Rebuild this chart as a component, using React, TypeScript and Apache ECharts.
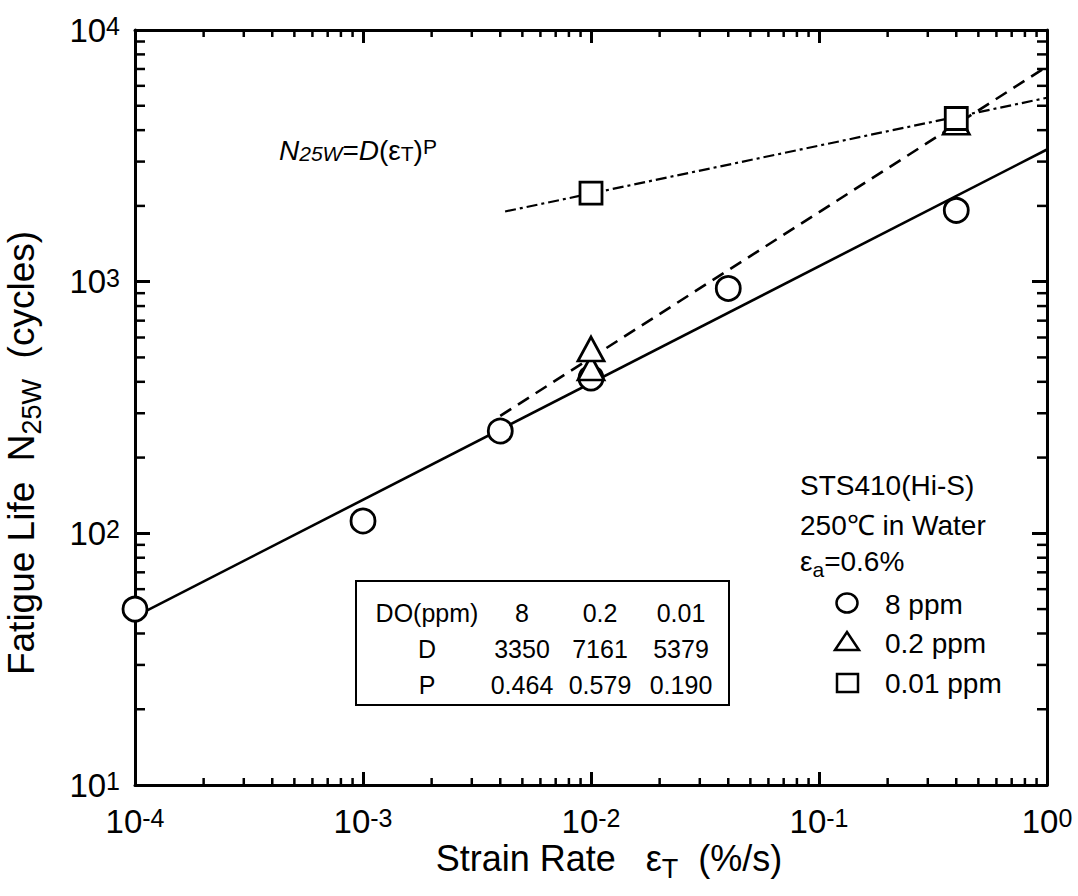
import React, { useEffect, useRef } from 'react';
import * as echarts from 'echarts';

// ---------------- data ----------------
const xDecades = [-4, -3, -2, -1];
const yDecades = [1, 2, 3];
const minorMultipliers = [2, 3, 4, 5, 6, 7, 8, 9];

// measured fatigue lives (strain rate %/s, cycles)
const circles8ppm: [number, number][] = [
  [0.0001, 50], [0.001, 112], [0.004, 255], [0.01, 414], [0.04, 940], [0.4, 1920],
];
const triangles02ppm: [number, number][] = [
  [0.01, 454], [0.01, 540], [0.4, 4300],
];
const squares001ppm: [number, number][] = [
  [0.01, 2250], [0.4, 4450],
];

// fitted lines N = D * eps^P (end points)
const fit8ppm: [number, number][] = [[0.0001, 46.7], [1, 3350]];
const fit02ppm: [number, number][] = [[0.004, 293], [1, 7161]];
const fit001ppm: [number, number][] = [[0.0042, 1900], [1, 5379]];

// table
const tableHeader = ['DO(ppm)', '8', '0.2', '0.01'];
const tableD = ['D', '3350', '7161', '5379'];
const tableP = ['P', '0.464', '0.579', '0.190'];

// legend texts
const infoLines = ['STS410(Hi-S)', '250℃ in Water'];
const legendLabels = ['8 ppm', '0.2 ppm', '0.01 ppm'];

const FONT = '"Liberation Sans", Arial, Helvetica, sans-serif';
const black = '#000';

export default function App() {
  const ref = useRef<HTMLDivElement>(null);

  useEffect(() => {
    const chart = echarts.init(ref.current!, null, { renderer: 'svg' });

    const xMinorTicks = xDecades.flatMap((d) => minorMultipliers.map((m) => [m * Math.pow(10, d), 10]));
    const yMinorTicks = yDecades.flatMap((d) => minorMultipliers.map((m) => [0.0001, m * Math.pow(10, d)]));

    const logLabel = (v: number) => `{b|10}{s|${Math.round(Math.log10(v))}}`;
    const labelRich = {
      b: { fontSize: 33, fontFamily: FONT, color: black, lineHeight: 33, padding: [7, 0, 7, 0] },
      s: { fontSize: 25, fontFamily: FONT, color: black, lineHeight: 25, verticalAlign: 'top' },
    };

    const axisCommon = (pos: string, showLabel: boolean, tickLen: number) => ({
      type: 'log',
      logBase: 10,
      position: pos,
      axisLine: { show: true, onZero: false, lineStyle: { color: black, width: 3 } },
      axisTick: { show: true, inside: true, length: tickLen, lineStyle: { color: black, width: 3 } },
      axisLabel: showLabel
        ? { show: true, margin: pos === 'bottom' ? 20 : 15, formatter: logLabel, rich: labelRich }
        : { show: false },
      splitLine: { show: false },
      minorTick: { show: false },
      minorSplitLine: { show: false },
    });

    const tickStyle = { stroke: black, lineWidth: 2.5 };

    const textRich = (size: number, subSize: number, padB: number) => ({
      t: { fontSize: size, fontFamily: FONT, lineHeight: size, padding: [0, 0, padB, 0] },
      sub: { fontSize: subSize, fontFamily: FONT, lineHeight: subSize, verticalAlign: 'bottom' },
    });

    const colX = [427, 522, 600, 681];
    const rowY = [613, 649, 685];
    const tableRows = [tableHeader, tableD, tableP];
    const tableTexts = tableRows.flatMap((row, ri) =>
      row.map((txt, ci) => ({
        type: 'text',
        x: colX[ci],
        y: rowY[ri],
        style: {
          text: txt,
          fontSize: 25,
          fontFamily: FONT,
          fill: black,
          textAlign: 'center',
          textVerticalAlign: 'middle',
        },
      }))
    );

    const legendY = [604, 643, 683];
    const infoY = [485, 525];

    const option: any = {
      animation: false,
      backgroundColor: '#fff',
      grid: { left: 135, top: 30, width: 912, height: 755, containLabel: false, outerBoundsMode: 'none' },
      xAxis: [
        { ...axisCommon('bottom', true, 13), min: 0.0001, max: 1 },
        { ...axisCommon('top', false, 13), min: 0.0001, max: 1 },
      ],
      yAxis: [
        { ...axisCommon('left', true, 15), min: 10, max: 10000 },
        { ...axisCommon('right', false, 15), min: 10, max: 10000 },
      ],
      series: [
        {
          type: 'custom',
          name: 'xminor',
          xAxisIndex: 0,
          yAxisIndex: 0,
          data: xMinorTicks,
          clip: false,
          silent: true,
          z: 1,
          renderItem: (params: any, api: any) => {
            const cs = params.coordSys;
            const p = api.coord([api.value(0), api.value(1)]);
            return {
              type: 'group',
              children: [
                { type: 'line', shape: { x1: p[0], y1: cs.y + cs.height, x2: p[0], y2: cs.y + cs.height - 7 }, style: tickStyle },
                { type: 'line', shape: { x1: p[0], y1: cs.y, x2: p[0], y2: cs.y + 7 }, style: tickStyle },
              ],
            };
          },
        },
        {
          type: 'custom',
          name: 'yminor',
          xAxisIndex: 0,
          yAxisIndex: 0,
          data: yMinorTicks,
          clip: false,
          silent: true,
          z: 1,
          renderItem: (params: any, api: any) => {
            const cs = params.coordSys;
            const p = api.coord([api.value(0), api.value(1)]);
            return {
              type: 'group',
              children: [
                { type: 'line', shape: { x1: cs.x, y1: p[1], x2: cs.x + 10, y2: p[1] }, style: tickStyle },
                { type: 'line', shape: { x1: cs.x + cs.width, y1: p[1], x2: cs.x + cs.width - 10, y2: p[1] }, style: tickStyle },
              ],
            };
          },
        },
        {
          type: 'line', name: 'fit 8 ppm', data: fit8ppm, symbol: 'none', z: 2,
          lineStyle: { color: black, width: 2.6, type: 'solid' },
        },
        {
          type: 'line', name: 'fit 0.2 ppm', data: fit02ppm, symbol: 'none', z: 2,
          lineStyle: { color: black, width: 2.6, type: [13, 8] },
        },
        {
          type: 'line', name: 'fit 0.01 ppm', data: fit001ppm, symbol: 'none', z: 2,
          lineStyle: { color: black, width: 2.2, type: [11, 4, 3, 4] },
        },
        {
          type: 'scatter', name: '8 ppm', data: circles8ppm, symbol: 'circle', symbolSize: 24, z: 3,
          itemStyle: { color: '#fff', borderColor: black, borderWidth: 2.8, opacity: 1 },
        },
        {
          type: 'scatter', name: '0.2 ppm', data: triangles02ppm, symbol: 'triangle', symbolSize: [26, 24], z: 4,
          itemStyle: { color: '#fff', borderColor: black, borderWidth: 2.8, opacity: 1 },
        },
        {
          type: 'scatter', name: '0.01 ppm', data: squares001ppm, symbol: 'rect', symbolSize: 22, z: 5,
          itemStyle: { color: '#fff', borderColor: black, borderWidth: 2.8, opacity: 1 },
        },
      ],
      graphic: {
        elements: [
          // y axis title
          {
            type: 'text',
            x: 8,
            y: 453,
            rotation: Math.PI / 2,
            style: {
              text: '{t|Fatigue Life  N}{sub|25W}{t|  (cycles)}',
              rich: textRich(37, 27, 11),
              fill: black,
              textAlign: 'center',
              textVerticalAlign: 'top',
            },
          },
          // x axis title
          {
            type: 'text',
            x: 609,
            y: 846,
            style: {
              text: '{t|Strain Rate   ε}{sub|T}{t|  (%/s)}',
              rich: textRich(36, 27, 11),
              fill: black,
              textAlign: 'center',
              textVerticalAlign: 'top',
            },
          },
          // formula
          {
            type: 'text',
            x: 279,
            y: 150,
            style: {
              text: '{i|N}{is|25W}{n|=}{i|D}{n|(ε}{s|T}{n|)}{p|P}',
              rich: {
                i: { fontSize: 28, fontFamily: FONT, fontStyle: 'italic', lineHeight: 28, padding: [8, 0, 8, 0] },
                n: { fontSize: 28, fontFamily: FONT, lineHeight: 28, padding: [8, 0, 8, 0] },
                is: { fontSize: 21, fontFamily: FONT, fontStyle: 'italic', lineHeight: 21, verticalAlign: 'bottom' },
                s: { fontSize: 21, fontFamily: FONT, lineHeight: 21, verticalAlign: 'bottom' },
                p: { fontSize: 21, fontFamily: FONT, lineHeight: 21, verticalAlign: 'top' },
              },
              fill: black,
              textAlign: 'left',
              textVerticalAlign: 'middle',
            },
          },
          // table frame
          {
            type: 'rect',
            shape: { x: 356, y: 581, width: 373, height: 124 },
            style: { fill: 'none', stroke: black, lineWidth: 2 },
            z: 10,
          },
          ...tableTexts,
          // info block
          ...infoLines.map((txt, i) => ({
            type: 'text',
            x: 800,
            y: infoY[i],
            style: { text: txt, fontSize: 28, fontFamily: FONT, fill: black, textAlign: 'left', textVerticalAlign: 'middle' },
          })),
          {
            type: 'text',
            x: 800,
            y: 552,
            style: {
              text: '{t|ε}{sub|a}{t|=0.6%}',
              rich: {
                t: { fontSize: 28, fontFamily: FONT, lineHeight: 28, padding: [0, 0, 10, 0] },
                sub: { fontSize: 21, fontFamily: FONT, lineHeight: 21, verticalAlign: 'bottom' },
              },
              fill: black,
              textAlign: 'left',
              textVerticalAlign: 'top',
            },
          },
          // legend symbols
          { type: 'ellipse', shape: { cx: 847, cy: 603, rx: 10.5, ry: 9.5 }, style: { fill: 'none', stroke: black, lineWidth: 2.5 } },
          { type: 'polygon', shape: { points: [[835, 650], [859, 650], [847, 632]] }, style: { fill: 'none', stroke: black, lineWidth: 2.5 } },
          { type: 'rect', shape: { x: 837, y: 674, width: 21, height: 18 }, style: { fill: 'none', stroke: black, lineWidth: 2.5 } },
          ...legendLabels.map((txt, i) => ({
            type: 'text',
            x: 885,
            y: legendY[i],
            style: { text: txt, fontSize: 28, fontFamily: FONT, fill: black, textAlign: 'left', textVerticalAlign: 'middle' },
          })),
        ],
      },
    };

    chart.setOption(option);
    return () => chart.dispose();
  }, []);

  return (
    <div
      ref={ref}
      style={{ position: 'fixed', left: 0, top: 0, width: 1078, height: 896, background: '#fff' }}
    />
  );
}
